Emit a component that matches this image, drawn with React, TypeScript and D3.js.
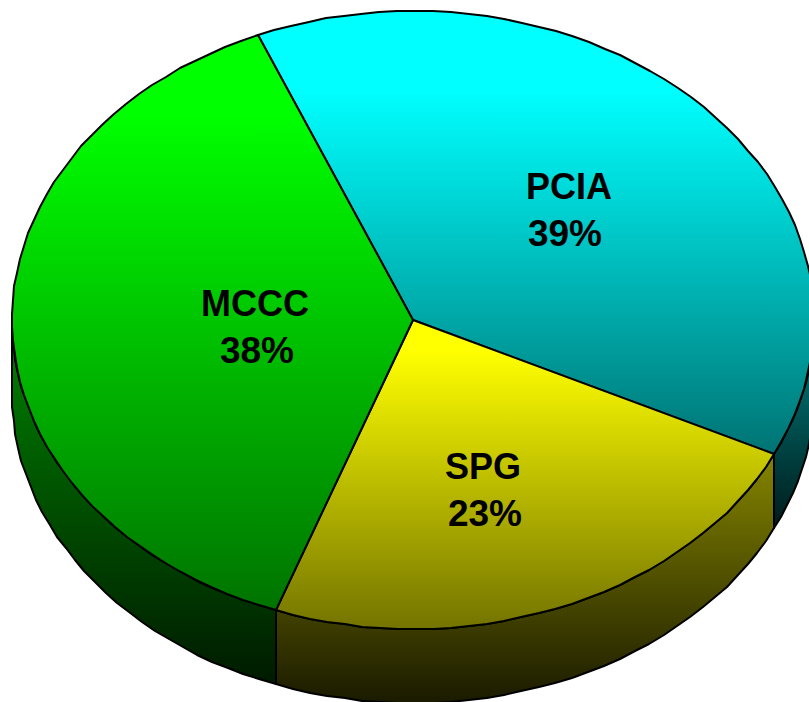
import React from 'react';
import * as d3 from 'd3';

const categories = ['PCIA', 'SPG', 'MCCC'];
const shares = [38.5, 23.4, 38.1];
const percentLabels = ['39%', '23%', '38%'];
const faceColors = ['#00ffff', '#ffff00', '#00ff00'];
const nameCenters = [[569, 199], [483, 479], [255, 316]];
const percentCenters = [[565, 246], [485, 526], [257, 363]];
const flatStops = [0.18, 0.1, 0.14];

const width = 809;
const height = 702;
const cx = 413;
const cy = 320;
const rx = 401;
const ry = 309;
const depth = 74;
const startAngle = (-22.8 * Math.PI) / 180;

const x = d3.scaleLinear().domain([-1, 1]).range([cx - rx, cx + rx]);
const y = d3.scaleLinear().domain([-1, 1]).range([cy - ry, cy + ry]);

// angle is clockwise from 12 o'clock, like d3.pie
const rim = (a: number, drop = 0): [number, number] => [
  Math.round(x(Math.sin(a))),
  Math.round(y(-Math.cos(a))) + drop,
];

const sample = (a0: number, a1: number) => {
  const n = Math.max(2, Math.ceil((a1 - a0) / 0.045));
  return d3.range(n + 1).map((i) => a0 + ((a1 - a0) * i) / n);
};

const line = d3.line();

const slices = d3
  .pie<number>()
  .sort(null)
  .startAngle(startAngle)
  .endAngle(startAngle + 2 * Math.PI)(shares);

const facePath = (a0: number, a1: number) =>
  line([[cx, cy], ...sample(a0, a1).map((a) => rim(a))]) + 'Z';

// wall is only seen on the front half, between 90 and 270 degrees
const wallPath = (a0: number, a1: number) => {
  const from = Math.max(a0, Math.PI / 2);
  const to = Math.min(a1, (3 * Math.PI) / 2);
  if (to <= from) return null;
  const angles = sample(from, to);
  const pts = [
    ...angles.map((a) => rim(a)),
    ...[...angles].reverse().map((a) => rim(a, depth)),
  ];
  return line(pts as [number, number][]) + 'Z';
};

const darken = (c: string, k: number) => {
  const rgb = d3.rgb(c);
  return d3.rgb(rgb.r * k, rgb.g * k, rgb.b * k).formatHex();
};

export default function App() {
  return (
    <svg
      width={width}
      height={height}
      style={{ position: 'absolute', left: 0, top: 0, background: '#fff' }}
    >
      <defs>
        {faceColors.map((c, i) => (
          <React.Fragment key={c}>
            <linearGradient id={`face${i}`} x1="0" y1="0" x2="0" y2="1">
              <stop offset={flatStops[i]} stopColor={c} />
              <stop offset="1" stopColor={darken(c, 0.45)} />
            </linearGradient>
            <linearGradient id={`wall${i}`} x1="0" y1="0" x2="0" y2="1">
              <stop offset="0" stopColor={darken(c, 0.52)} />
              <stop offset="1" stopColor={darken(c, 0.1)} />
            </linearGradient>
          </React.Fragment>
        ))}
      </defs>
      {slices.map((s, i) => {
        const d = wallPath(s.startAngle, s.endAngle);
        return d ? (
          <path key={i} d={d} fill={`url(#wall${i})`} stroke="#000" strokeWidth={2} strokeLinejoin="round" />
        ) : null;
      })}
      {slices.map((s, i) => (
        <path
          key={i}
          d={facePath(s.startAngle, s.endAngle)}
          fill={`url(#face${i})`}
          stroke="#000"
          strokeWidth={2}
          strokeLinejoin="round"
        />
      ))}
      {categories.map((name, i) => (
        <text
          key={name}
          textAnchor="middle"
          fontFamily="'Liberation Sans', Arial, sans-serif"
          fontWeight="bold"
          fontSize={36}
          fill="#000"
        >
          <tspan x={nameCenters[i][0]} y={nameCenters[i][1]}>{name}</tspan>
          <tspan x={percentCenters[i][0]} y={percentCenters[i][1]} fontSize={37}>{percentLabels[i]}</tspan>
        </text>
      ))}
    </svg>
  );
}
